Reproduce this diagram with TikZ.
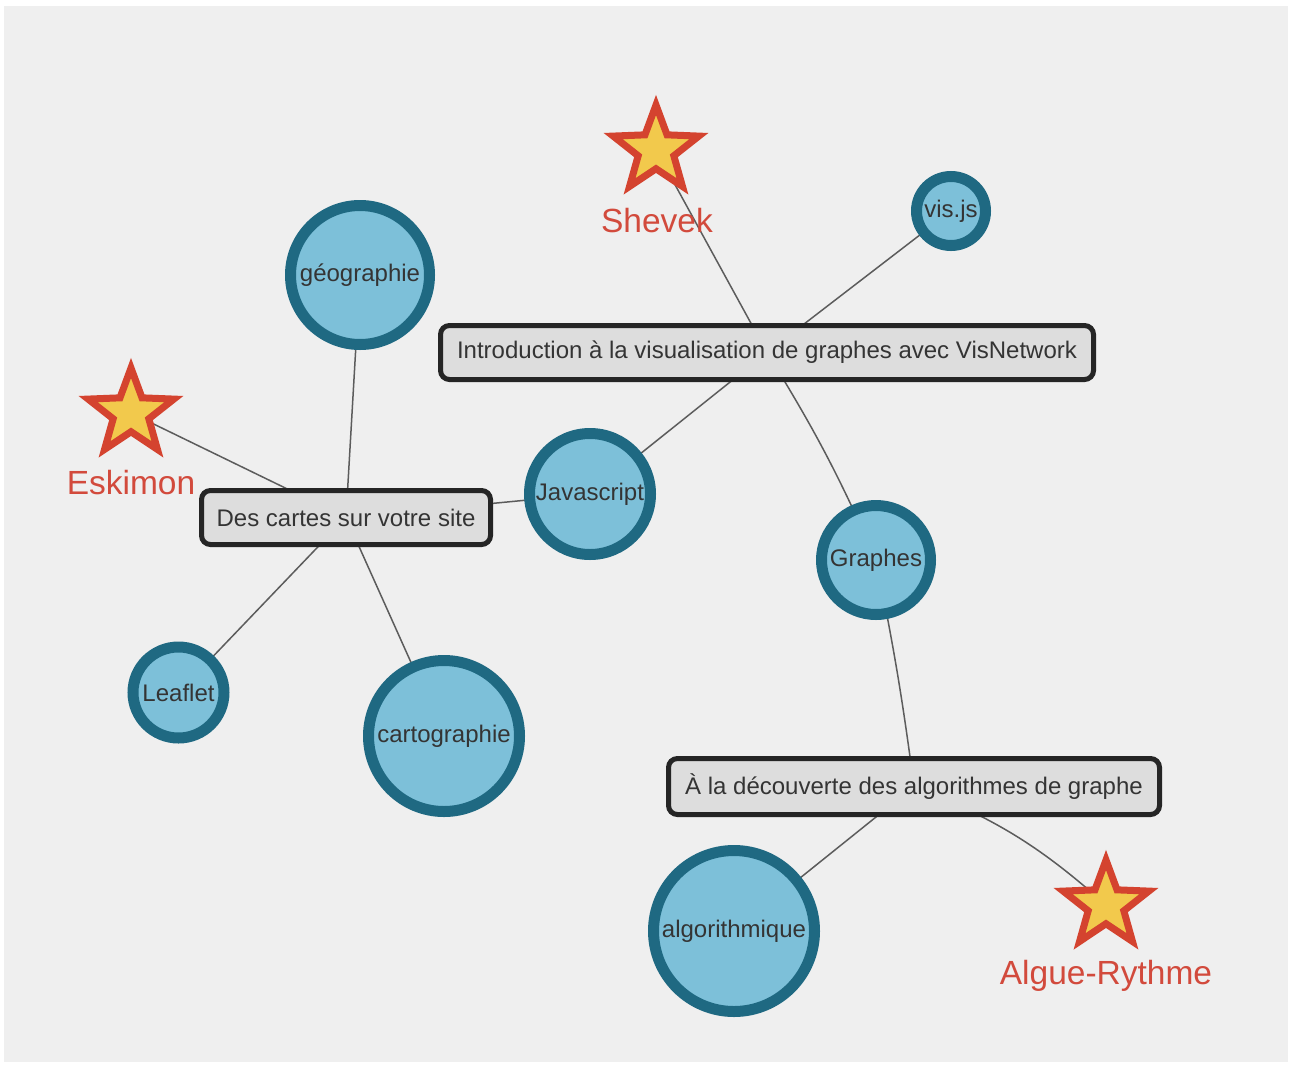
\documentclass[tikz,border=0pt]{standalone}
\usepackage{fontspec}
\setmainfont{Liberation Sans}
\usetikzlibrary{shapes.geometric}
\definecolor{bggray}{HTML}{EFEFEF}
\definecolor{circfill}{HTML}{7DC0D9}
\definecolor{circborder}{HTML}{1F6982}
\definecolor{boxfill}{HTML}{DDDDDD}
\definecolor{boxborder}{HTML}{252525}
\definecolor{textgray}{HTML}{343434}
\definecolor{edgegray}{HTML}{5C5C5C}
\definecolor{starred}{HTML}{D4432F}
\definecolor{staryellow}{HTML}{F2C94C}
\definecolor{labred}{HTML}{D24A3C}
\pgfdeclarelayer{bgl}
\pgfdeclarelayer{edges}
\pgfsetlayers{bgl,edges,main}
\tikzset{
  circnode/.style={circle, draw=circborder, fill=circfill, line width=11pt, inner sep=0pt,
    text=textgray, font=\fontsize{24}{28}\selectfont},
  boxnode/.style={rectangle, rounded corners=9pt, draw=boxborder, fill=boxfill, line width=5pt,
    inner sep=0pt, text=textgray, font=\fontsize{24}{28}\selectfont},
  starnode/.style={star, star points=5, star point ratio=2.4, minimum size=90pt, inner sep=0pt,
    draw=starred, fill=staryellow, line width=7pt, line join=miter},
  starlabel/.style={text=labred, font=\fontsize{33.5}{38}\selectfont, inner sep=0pt},
  edge/.style={draw=edgegray, line width=1.5pt}
}
\begin{document}
\begin{tikzpicture}[x=1pt,y=-1pt]
\useasboundingbox (0,0) rectangle (1290,1066);
\begin{pgfonlayer}{bgl}
\fill[white] (0,0) rectangle (1290,1066);
\fill[bggray] (4,6) rectangle (1288,1062);
\end{pgfonlayer}

% boxes
\node[boxnode, minimum width=653pt, minimum height=54pt] (intro) at (767,352.5)
  {Introduction à la visualisation de graphes avec VisNetwork};
\node[boxnode, minimum width=289pt, minimum height=54pt] (cartes) at (346,517.5)
  {Des cartes sur votre site};
\node[boxnode, minimum width=491pt, minimum height=56pt] (decouv) at (914,786.5)
  {À la découverte des algorithmes de graphe};

% circles
\node[circnode, minimum size=139pt] (geo) at (360,275) {géographie};
\node[circnode, minimum size=121pt] (js) at (590,494) {Javascript};
\node[circnode, minimum size=69pt] (visjs) at (951,211) {vis.js};
\node[circnode, minimum size=109pt] (graphes) at (876,560) {Graphes};
\node[circnode, minimum size=91pt] (leaflet) at (178.5,692.5) {Leaflet};
\node[circnode, minimum size=151pt] (carto) at (444,736) {cartographie};
\node[circnode, minimum size=161pt] (algo) at (734,931) {algorithmique};

% stars
\node[starnode] (shevek) at (656,150) {};
\node[starlabel] (shevekL) at (657,221) {Shevek};
\node[starnode] (eskimon) at (131,413) {};
\node[starlabel] (eskimonL) at (131,483) {Eskimon};
\node[starnode] (algue) at (1106,905) {};
\node[starlabel] (algueL) at (1106,976) {Algue-Rythme};

% edges
\begin{pgfonlayer}{edges}
\draw[edge] (intro.center) -- (shevek.center);
\draw[edge] (intro.center) -- (visjs.center);
\draw[edge] (intro.center) -- (js.center);
\draw[edge] (intro.center) to[bend left=4] (graphes.center);
\draw[edge] (graphes.center) to[bend left=2] (decouv.center);
\draw[edge] (decouv.center) -- (algo.center);
\draw[edge] (decouv.center) to[bend left=10] (algue.center);
\draw[edge] (cartes.center) -- (geo.center);
\draw[edge] (cartes.center) -- (eskimon.center);
\draw[edge] (cartes.center) -- (js.center);
\draw[edge] (cartes.center) -- (leaflet.center);
\draw[edge] (cartes.center) -- (carto.center);
\end{pgfonlayer}
\end{tikzpicture}
\end{document}
